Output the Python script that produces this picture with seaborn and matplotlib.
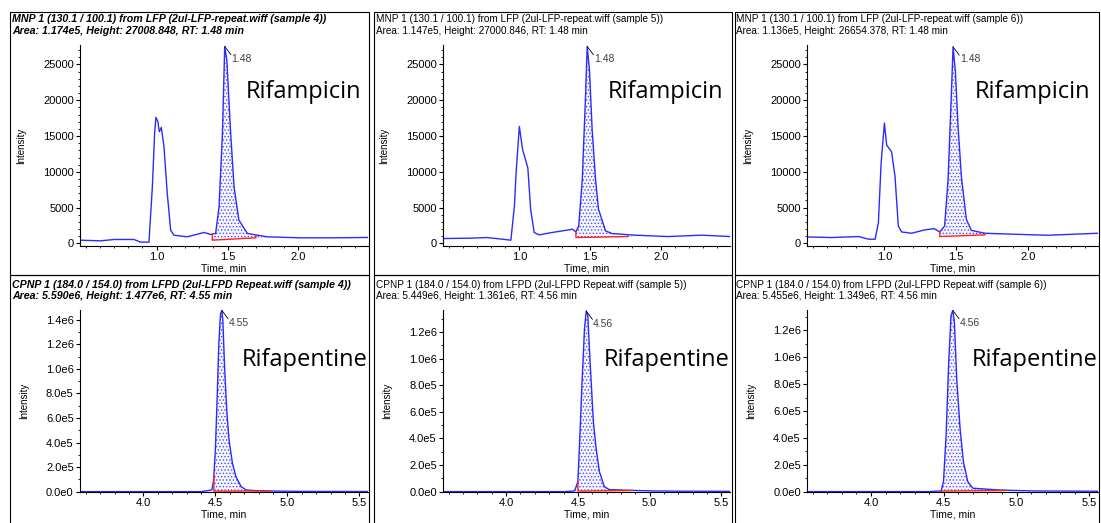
import numpy as np
import matplotlib
matplotlib.use('Agg')
import matplotlib.pyplot as plt
import matplotlib.ticker as mticker
from matplotlib.patches import Rectangle
import seaborn as sns

# ---- Rifampicin (MNP 1 130.1/100.1), samples 4, 5, 6 ----
rif_time_s4 = [0.46, 0.605, 0.70, 0.84, 0.887, 0.946, 0.97, 0.986, 0.995, 1.009, 1.019, 1.033,
               1.052, 1.075, 1.099, 1.122, 1.216, 1.334, 1.38, 1.416, 1.44, 1.464, 1.48, 1.495,
               1.522, 1.546, 1.58, 1.64, 1.78, 2.016, 2.25, 2.49]
rif_int_s4 = [465, 370, 560, 560, 190, 190, 7900, 15360, 17600, 17000, 15600, 16200,
              13500, 7000, 1860, 1160, 930, 1540, 1260, 1400, 5120, 15360, 27500, 25600,
              15360, 7900, 3260, 1400, 930, 790, 790, 840]

rif_time_s5 = [0.46, 0.65, 0.77, 0.88, 0.94, 0.965, 0.977, 1.0, 1.023, 1.06, 1.08, 1.105,
               1.14, 1.23, 1.35, 1.375, 1.40, 1.42, 1.445, 1.468, 1.48, 1.496, 1.515, 1.539,
               1.56, 1.61, 1.656, 1.82, 2.05, 2.29, 2.49]
rif_int_s5 = [690, 740, 830, 600, 460, 5200, 9860, 16340, 13100, 10560, 4770, 1530,
              1200, 1530, 1900, 2000, 1620, 2450, 8900, 20500, 27500, 24200, 15900, 8900,
              4770, 1760, 1390, 1160, 970, 1160, 970]

rif_time_s6 = [0.46, 0.63, 0.82, 0.89, 0.935, 0.958, 0.977, 1.0, 1.016, 1.05, 1.074, 1.097,
               1.12, 1.19, 1.28, 1.347, 1.386, 1.42, 1.444, 1.468, 1.479, 1.495, 1.514, 1.537,
               1.572, 1.606, 1.70, 1.91, 2.14, 2.49]
rif_int_s6 = [920, 830, 970, 600, 600, 2900, 11190, 16800, 13720, 12800, 9350, 2440,
              1610, 1430, 1890, 2070, 1610, 2440, 8890, 21300, 27440, 24080, 16250, 9350,
              3360, 1840, 1430, 1290, 1150, 1430]

# ---- Rifapentine (CPNP 1 184.0/154.0), samples 4, 5, 6 ----
rfp_time_s4 = [3.56, 4.40, 4.476, 4.488, 4.50, 4.512, 4.524, 4.536, 4.545, 4.552, 4.564, 4.579,
               4.595, 4.619, 4.643, 4.679, 4.714, 4.786, 4.88, 5.10, 5.56]
rfp_int_s4 = [0, 0, 13500, 95000, 339000, 745000, 1206000, 1450000, 1477000, 1396000, 1016000, 664000,
              420000, 230000, 122000, 40600, 13500, 8000, 5000, 2000, 1000]

rfp_time_s5 = [3.56, 4.40, 4.477, 4.50, 4.516, 4.53, 4.546, 4.558, 4.569, 4.585, 4.608, 4.627,
               4.65, 4.684, 4.719, 4.857, 5.018, 5.20, 5.56]
rfp_int_s5 = [0, 0, 5000, 75000, 475000, 850000, 1225000, 1357000, 1325000, 975000, 525000, 325000,
              150000, 37500, 15000, 10000, 5000, 3000, 2000]

rfp_time_s6 = [3.56, 4.40, 4.482, 4.498, 4.516, 4.534, 4.55, 4.562, 4.573, 4.589, 4.612, 4.635,
               4.665, 4.70, 4.883, 5.11, 5.56]
rfp_int_s6 = [0, 0, 5000, 74000, 420000, 965000, 1311000, 1349000, 1262000, 841000, 470000, 223000,
              74000, 25000, 12000, 5000, 2500]

# integration windows (start time, end time, baseline start, baseline end)
rif_windows = [(1.393, 1.70, 465, 790), (1.40, 1.77, 830, 970), (1.386, 1.70, 970, 1200)]
rfp_windows = [(4.49, 4.88, 4000, 5000), (4.50, 4.88, 4000, 8000), (4.48, 4.92, 4000, 8000)]

rif_rt = ['1.48', '1.48', '1.48']
rfp_rt = ['4.55', '4.56', '4.56']
rif_xticks = [1.0, 1.5, 2.0]
rfp_xticks = [4.0, 4.5, 5.0, 5.5]

rif_headers = [
    ("MNP 1 (130.1 / 100.1) from LFP (2ul-LFP-repeat.wiff (sample 4))",
     "Area: 1.174e5, Height: 27008.848, RT: 1.48 min"),
    ("MNP 1 (130.1 / 100.1) from LFP (2ul-LFP-repeat.wiff (sample 5))",
     "Area: 1.147e5, Height: 27000.846, RT: 1.48 min"),
    ("MNP 1 (130.1 / 100.1) from LFP (2ul-LFP-repeat.wiff (sample 6))",
     "Area: 1.136e5, Height: 26654.378, RT: 1.48 min"),
]
rfp_headers = [
    ("CPNP 1 (184.0 / 154.0) from LFPD (2ul-LFPD Repeat.wiff (sample 4))",
     "Area: 5.590e6, Height: 1.477e6, RT: 4.55 min"),
    ("CPNP 1 (184.0 / 154.0) from LFPD (2ul-LFPD Repeat.wiff (sample 5))",
     "Area: 5.449e6, Height: 1.361e6, RT: 4.56 min"),
    ("CPNP 1 (184.0 / 154.0) from LFPD (2ul-LFPD Repeat.wiff (sample 6))",
     "Area: 5.455e6, Height: 1.349e6, RT: 4.56 min"),
]
rfp_ytop = [1.48e6, 1.365e6, 1.352e6]

W, H = 1101, 523
sns.set_style('ticks')
plt.rcParams['font.family'] = ['Liberation Sans', 'DejaVu Sans']
plt.rcParams['text.color'] = 'black'
plt.rcParams['axes.labelcolor'] = 'black'
plt.rcParams['xtick.color'] = 'black'
plt.rcParams['ytick.color'] = 'black'
plt.rcParams['hatch.linewidth'] = 0.6
fig = plt.figure(figsize=(W / 100, H / 100), dpi=100)

BLUE = '#2b2bff'


def px_axes(left, top, right, bottom):
    return fig.add_axes([left / W, 1 - bottom / H, (right - left) / W, (bottom - top) / H])


def sci_fmt(v, pos):
    m, e = f"{v:.1e}".split('e')
    return f"{m}e{int(e)}"


def draw_panel(ax, t, y, win, rt, xlim, ylim, xticks, big_label, label_pos, sci):
    t = np.asarray(t, float)
    y = np.asarray(y, float)
    t0, t1, b0, b1 = win
    base = np.interp(t, [t0, t1], [b0, b1])
    mask = (t >= t0) & (t <= t1)
    ax.fill_between(t, base, y, where=mask, interpolate=True, facecolor='#f6f6ff',
                    edgecolor='#4a4aff', hatch='.....', linewidth=0)
    sns.lineplot(x=t, y=y, ax=ax, color=BLUE, linewidth=1.0, sort=False, estimator=None)
    yt0 = np.interp(t0, t, y)
    yt1 = np.interp(t1, t, y)
    ax.plot([t0, t0, t1, t1], [yt0, b0, b1, yt1], color='#ff2020', lw=1.0)
    k = int(np.argmax(y))
    ax.annotate('', xy=(t[k], y[k]), xytext=(4.5, -6), textcoords='offset points',
                arrowprops=dict(arrowstyle='-', color='black', lw=0.6, shrinkA=0, shrinkB=0))
    ax.annotate(rt, xy=(t[k], y[k]), xytext=(5, -9), textcoords='offset points',
                fontsize=7.5, color='#404040', ha='left', va='center')
    ax.text(label_pos[0], label_pos[1], big_label, transform=ax.transAxes, ha='right',
            va='center', fontsize=17, color='black', family=['Open Sans', 'DejaVu Sans'],
            clip_on=False)
    ax.set_xlim(*xlim)
    ax.set_ylim(*ylim)
    sns.despine(ax=ax)
    ax.xaxis.set_major_locator(mticker.FixedLocator(xticks))
    ax.xaxis.set_minor_locator(mticker.MultipleLocator(0.1))
    ax.xaxis.set_major_formatter(mticker.FormatStrFormatter('%.1f'))
    if sci:
        ax.yaxis.set_major_locator(mticker.MultipleLocator(2e5))
        ax.yaxis.set_minor_locator(mticker.MultipleLocator(1e5))
        ax.yaxis.set_major_formatter(mticker.FuncFormatter(sci_fmt))
    else:
        ax.yaxis.set_major_locator(mticker.MultipleLocator(5000))
        ax.yaxis.set_minor_locator(mticker.MultipleLocator(1000))
    ax.tick_params(which='major', length=3, width=0.8, labelsize=8, pad=1.5)
    ax.tick_params(which='minor', length=1.5, width=0.6)
    for s in ('left', 'bottom'):
        ax.spines[s].set_linewidth(0.8)
        ax.spines[s].set_color('black')
    ax.set_xlabel('Time, min', fontsize=7.5, labelpad=1)
    ax.set_ylabel('Intensity', fontsize=7, labelpad=12)


col_left = [80, 443, 807]
col_right = [368, 730, 1098]
head_x = [12, 376, 736]
frame_x = [(10, 369), (374, 732), (735, 1099)]

rif_data = [(rif_time_s4, rif_int_s4), (rif_time_s5, rif_int_s5), (rif_time_s6, rif_int_s6)]
rfp_data = [(rfp_time_s4, rfp_int_s4), (rfp_time_s5, rfp_int_s5), (rfp_time_s6, rfp_int_s6)]

for i in range(3):
    ax = px_axes(col_left[i], 45, col_right[i], 246)
    draw_panel(ax, *rif_data[i], rif_windows[i], rif_rt[i], (0.46, 2.49), (-350, 27700),
               rif_xticks, 'Rifampicin', (0.975, 0.765), False)
    ax = px_axes(col_left[i], 310, col_right[i], 492)
    draw_panel(ax, *rfp_data[i], rfp_windows[i], rfp_rt[i], (3.56, 5.56), (-3000, rfp_ytop[i]),
               rfp_xticks, 'Rifapentine', (1.0, 0.725), True)

    if i == 0:
        head_kw = dict(fontsize=7.7, va='center', ha='left', fontweight='bold', style='italic')
    else:
        head_kw = dict(fontsize=7.2, va='center', ha='left')
    fig.text(head_x[i] / W, 1 - 19 / H, rif_headers[i][0], **head_kw)
    fig.text(head_x[i] / W, 1 - 31 / H, rif_headers[i][1], **head_kw)
    fig.text(head_x[i] / W, 1 - 285 / H, rfp_headers[i][0], **head_kw)
    fig.text(head_x[i] / W, 1 - 296 / H, rfp_headers[i][1], **head_kw)

    x0, x1 = frame_x[i]
    for (ya, yb) in [(12, 275), (275, 530)]:
        fig.add_artist(Rectangle((x0 / W, 1 - yb / H), (x1 - x0) / W, (yb - ya) / H,
                                 transform=fig.transFigure, fill=False, lw=0.8,
                                 edgecolor='black', zorder=0))

fig.savefig('out.png', dpi=100)
